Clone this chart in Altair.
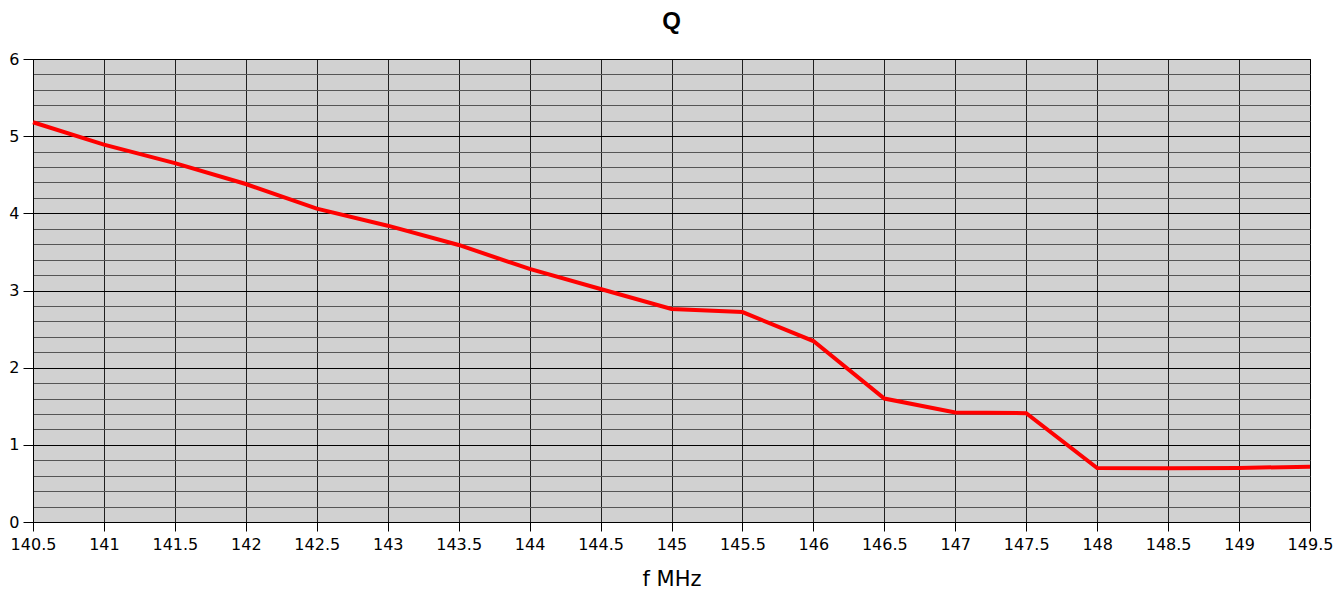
import altair as alt
import pandas as pd

freq = [140.5, 141, 141.5, 142, 142.5, 143, 143.5, 144, 144.5, 145,
        145.5, 146, 146.5, 147, 147.5, 148, 148.5, 149, 149.5]
q = [5.18, 4.89, 4.65, 4.38, 4.06, 3.84, 3.59, 3.28, 3.02, 2.76,
     2.72, 2.345, 1.60, 1.42, 1.41, 0.70, 0.695, 0.70, 0.717]

x_ticks = [140.5, 141, 141.5, 142, 142.5, 143, 143.5, 144, 144.5, 145,
           145.5, 146, 146.5, 147, 147.5, 148, 148.5, 149, 149.5]
y_ticks = [0, 0.2, 0.4, 0.6, 0.8, 1, 1.2, 1.4, 1.6, 1.8, 2, 2.2, 2.4, 2.6, 2.8,
           3, 3.2, 3.4, 3.6, 3.8, 4, 4.2, 4.4, 4.6, 4.8, 5, 5.2, 5.4, 5.6, 5.8, 6]

df = pd.DataFrame({"f": freq, "Q": q})

major = "abs(datum.value - round(datum.value)) < 1e-6"

chart = alt.Chart(df).mark_line(color="#ff0000", strokeWidth=4).encode(
    x=alt.X("f:Q",
            scale=alt.Scale(domain=[140.5, 149.5], nice=False, zero=False),
            axis=alt.Axis(values=x_ticks, format="~g", title="f MHz",
                          grid=True, gridColor="#000000", gridOpacity=0.85,
                          tickSize=9, tickColor="#000000", domainColor="#000000",
                          labelFontSize=16, labelFont="DejaVu Sans", labelColor="#000000",
                          labelPadding=5, labelFlush=False,
                          titleFontSize=21, titleFont="DejaVu Sans", titleFontWeight="normal",
                          titleColor="#000000", titleBaseline="alphabetic", titleY=63)),
    y=alt.Y("Q:Q",
            scale=alt.Scale(domain=[0, 6], nice=False),
            axis=alt.Axis(values=y_ticks, title=None,
                          labelExpr=f"{major} ? format(round(datum.value), 'd') : ''",
                          grid=True,
                          gridColor={"condition": {"test": major, "value": "#000000"}, "value": "#555555"},
                          tickColor={"condition": {"test": major, "value": "#000000"}, "value": "transparent"},
                          tickSize=10, domainColor="#000000",
                          labelFontSize=16, labelFont="DejaVu Sans", labelColor="#000000",
                          labelPadding=4)),
).properties(
    width=1277,
    height=463,
    title=alt.TitleParams("Q", fontSize=24, font="Liberation Sans", fontWeight="bold",
                          color="#000000", anchor="middle", offset=17),
    padding={"left": 25, "top": 51, "right": 25, "bottom": 79},
    autosize=alt.AutoSizeParams(type="none"),
    background="#ffffff",
).configure_view(
    fill="#d1d1d1", stroke="#000000", strokeWidth=1
)

chart.save("out.html", embed_options={"renderer": "svg", "actions": False})
